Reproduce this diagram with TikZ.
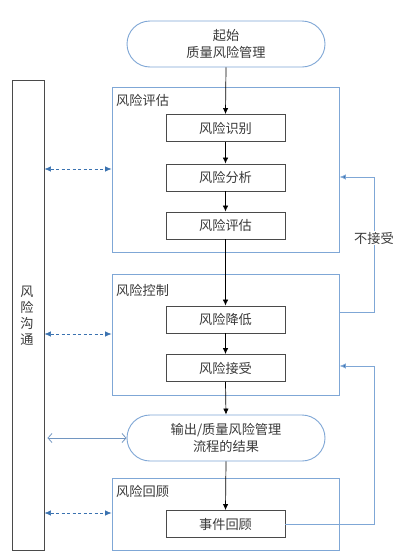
\documentclass[tikz,border=0pt]{standalone}
\usepackage{fontspec}
\setmainfont{Noto Sans CJK SC}
\usetikzlibrary{arrows.meta}
\definecolor{frameblue}{HTML}{7FA7D6}
\definecolor{arrowblue}{HTML}{3A72B0}
\definecolor{boxgray}{HTML}{4A4A4A}
\definecolor{txt}{HTML}{3A3A3A}
\tikzset{
  every node/.style={text=txt,font=\fontsize{13.2}{17}\selectfont},
  term/.style={draw=frameblue,line width=0.9pt,rounded corners=23pt,minimum width=198pt,minimum height=46pt,align=center,inner sep=0pt},
  stepbox/.style={draw=boxgray,line width=0.9pt,minimum width=119pt,minimum height=27pt,inner sep=0pt},
  frame/.style={draw=frameblue,line width=0.9pt},
  flow/.style={draw=black,line width=0.7pt,-{Latex[length=6pt,width=5.5pt]}},
  dashlink/.style={draw=arrowblue,line width=0.7pt,dashed,dash pattern=on 3pt off 2.5pt,{Latex[length=6.5pt,width=5.5pt]}-{Latex[length=6.5pt,width=5.5pt]}},
  openlink/.style={draw=frameblue!90!black,line width=0.8pt,{Straight Barb[length=4pt,width=9pt]}-{Straight Barb[length=4pt,width=9pt]}},
  fb/.style={draw=frameblue,line width=0.9pt},
  fbarrow/.style={draw=frameblue,line width=0.9pt,-{Latex[length=6.5pt,width=5.5pt,fill=arrowblue]}},
  lbl/.style={anchor=west,inner sep=0pt}
}
\begin{document}
\begin{tikzpicture}[x=1pt,y=-1pt]
\useasboundingbox[fill=white] (0,0) rectangle (400,560);
% left communication bar
\node[draw=boxgray,line width=0.9pt,minimum width=32pt,minimum height=470pt,inner sep=0pt] (comm) at (28,315) {};
\node[align=center,font=\fontsize{13.2}{16}\selectfont] (commtxt) at (27,316) {风\\险\\沟\\通};
% start
\node[term] (start) at (226,44) {起始\\质量风险管理};
% risk assessment frame
\node[frame,minimum width=227pt,minimum height=165pt,inner sep=0pt] (assess) at (225.5,169.5) {};
\node[lbl] (assesslbl) at (116,100) {风险评估};
\node[stepbox] (ident) at (225.5,128) {风险识别};
\node[stepbox] (anal) at (225.5,177.5) {风险分析};
\node[stepbox] (eval) at (225.5,225.5) {风险评估};
% risk control frame
\node[frame,minimum width=227pt,minimum height=121pt,inner sep=0pt] (control) at (225.5,334.5) {};
\node[lbl] (controllbl) at (116,290) {风险控制};
\node[stepbox] (reduce) at (225.5,319.5) {风险降低};
\node[stepbox] (accept) at (225.5,368) {风险接受};
% output
\node[term] (output) at (226,438) {输出/质量风险管理\\流程的结果};
% review frame
\node[frame,minimum width=227pt,minimum height=72pt,inner sep=0pt] (review) at (225.5,514) {};
\node[lbl] (reviewlbl) at (116,491) {风险回顾};
\node[stepbox] (event) at (225.5,524) {事件回顾};
% main flow
\draw[flow] (start.south) -- (ident.north);
\draw[flow] (ident) -- (anal);
\draw[flow] (anal) -- (eval);
\draw[flow] (eval.south) -- (reduce.north);
\draw[flow] (reduce) -- (accept);
\draw[flow] (accept.south) -- (output.north);
\draw[flow] (output.south) -- (event.north);
% communication links
\draw[dashlink] (comm.east |- 0,169) -- (assess.west |- 0,169);
\draw[dashlink] (comm.east |- 0,334) -- (control.west |- 0,334);
\draw[dashlink] (comm.east |- 0,513) -- (review.west |- 0,513);
\draw[openlink] ([xshift=3pt]comm.east |- output.west) -- (output.west);
% feedback: not accepted
\coordinate (fb1a) at (374,312);
\coordinate (fb1b) at (374,177);
\node[fill=white,inner sep=1pt] (notacc) at (374,238) {不接受};
\draw[fb] (control.east |- fb1a) -- (fb1a) -- (notacc.south);
\draw[fbarrow] (notacc.north) -- (fb1b) -- (assess.east |- fb1b);
% feedback from review
\coordinate (fb2a) at (374,524);
\coordinate (fb2b) at (374,366);
\draw[fbarrow] (event.east) -- (fb2a) -- (fb2b) -- (control.east |- fb2b);
\end{tikzpicture}
\end{document}
